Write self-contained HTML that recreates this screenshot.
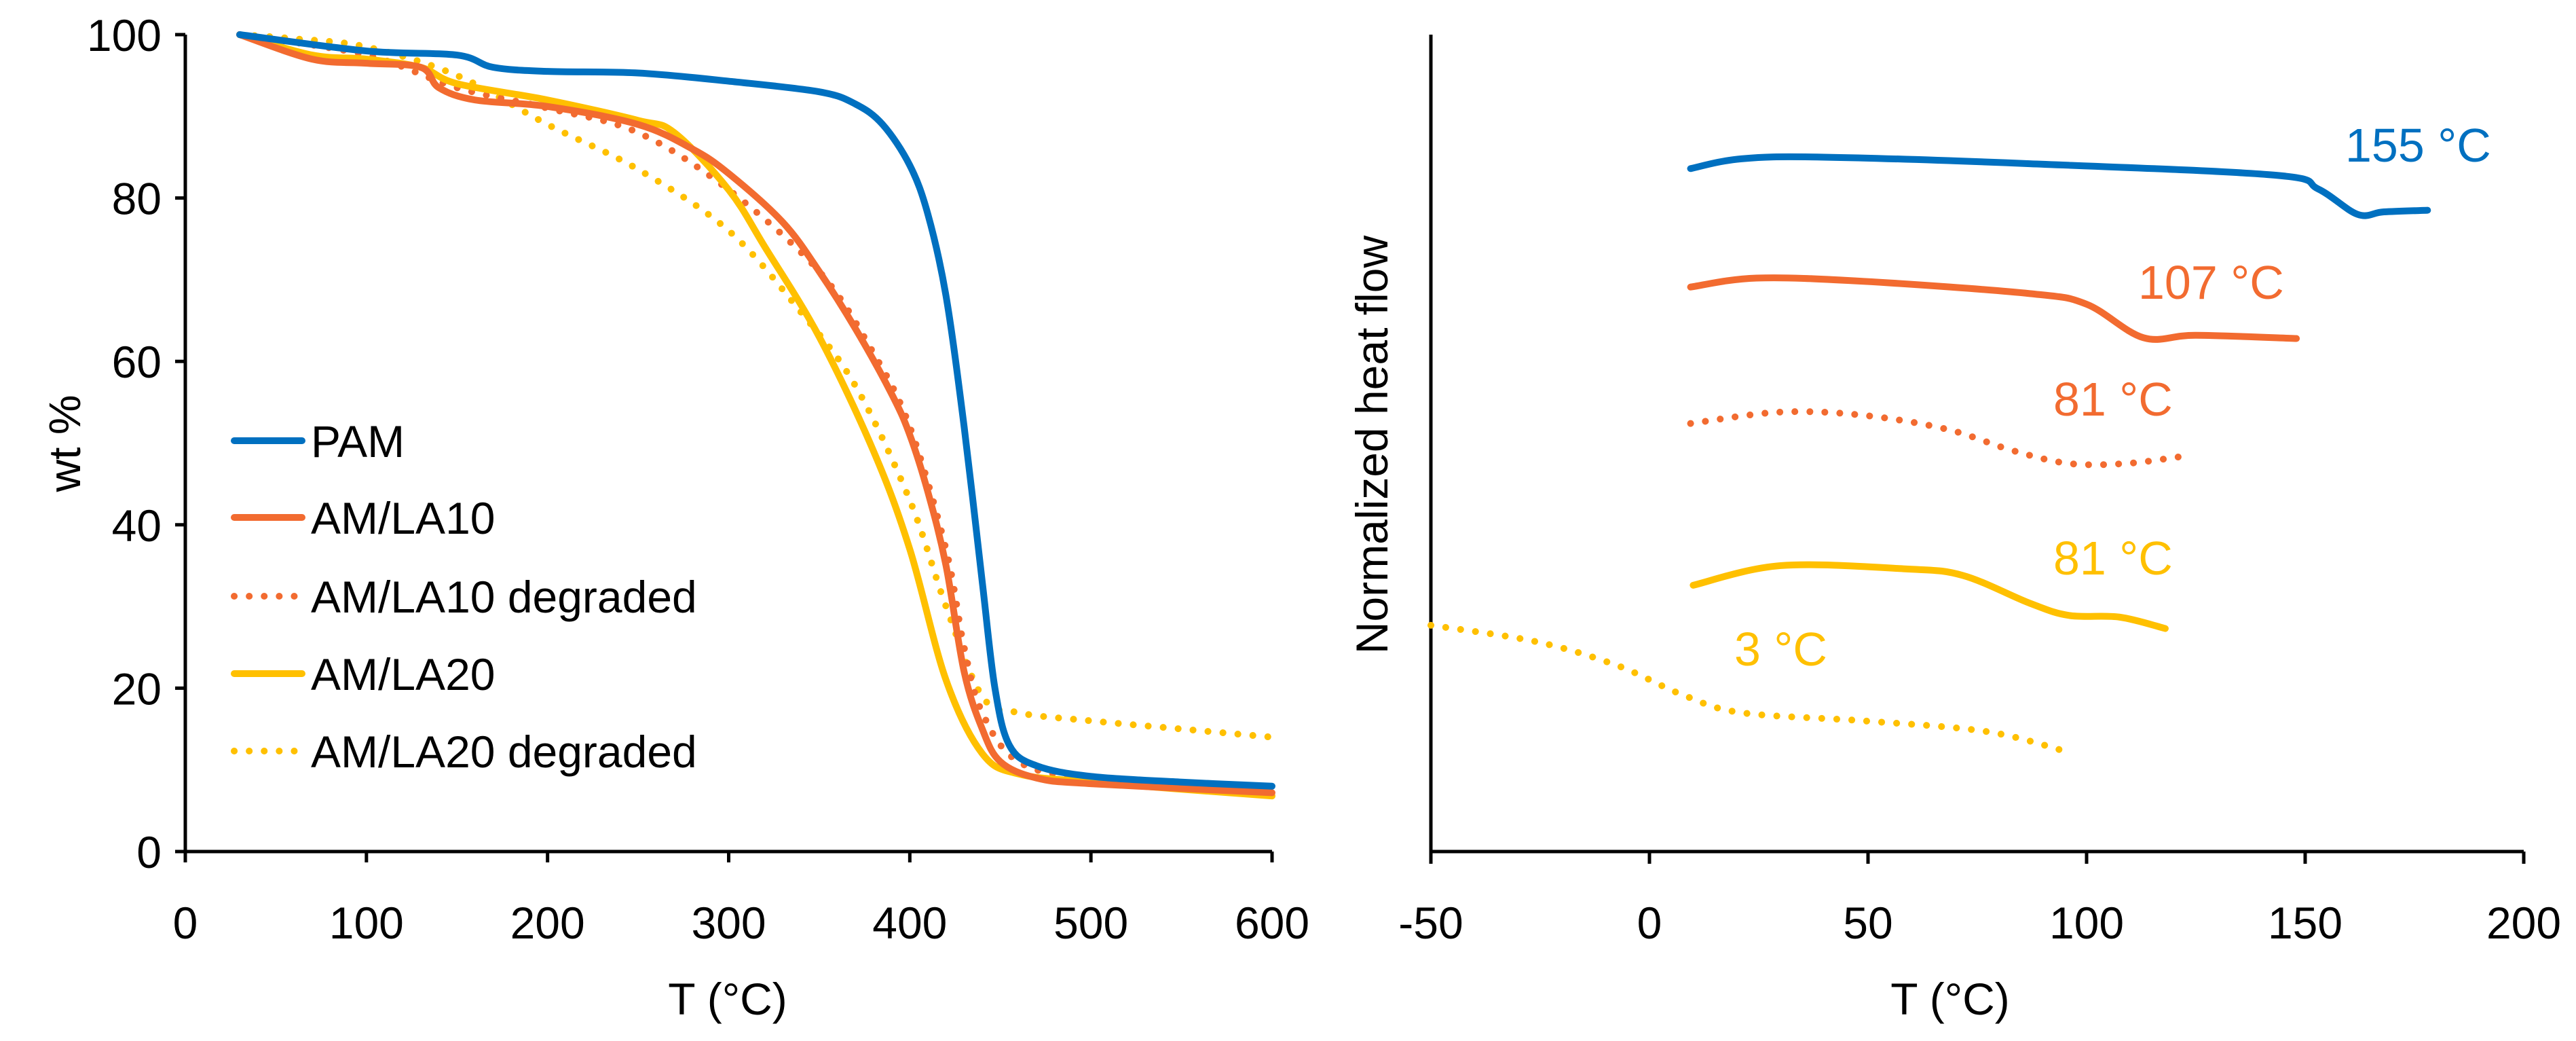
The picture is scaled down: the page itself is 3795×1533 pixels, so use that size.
<!DOCTYPE html>
<html><head><meta charset="utf-8"><style>
html,body{margin:0;padding:0;background:#fff}
svg{display:block;font-family:"Liberation Sans",Arial,sans-serif}
</style></head><body>
<svg id="c" width="3795" height="1533" viewBox="0 0 3795 1533" xmlns="http://www.w3.org/2000/svg"></svg>
<script>
const tgaXTicks=[0,100,200,300,400,500,600];
const tgaYTicks=[0,20,40,60,80,100];
const pamT=[30,100,150,170,200,250,300,350,370,385,400,410,420,430,440,447,455,470,500,550,600];
const pamW=[100,98,97.5,96,95.5,95.3,94.3,93,91.5,89,84,78,68,52,33,20,13,10.5,9.2,8.5,8];
const la10T=[30,70,100,130,140,160,200,250,280,300,330,350,370,390,400,410,420,430,440,450,470,500,600];
const la10W=[100,97,96.5,96,93.5,92,91.2,89,86,83,77,71,64,56,51,44,35,22,15,11,9,8.3,7.2];
const la10dT=[30,100,150,200,250,300,350,380,400,420,430,440,460,500,600];
const la10dW=[100,97.5,93.5,91,88,81,71,61,52,37,25,17,11,9,7.5];
const la20T=[30,70,100,130,150,200,250,270,300,320,350,380,400,420,440,460,500,600];
const la20W=[100,97.5,97,96,94,92,89.5,88,81,74,63,49,37,21,12,9.5,8.5,6.8];
const la20dT=[30,60,100,150,200,250,300,340,370,400,420,440,460,500,550,600];
const la20dW=[100,99.5,98.5,95,89,83.5,76,66,57,43,30,19,17,16,15,14];
const dscXTicks=[-50,0,50,100,150,200];
const dPamT=[9.4,21,40,87,143,153,162,168,178];
const dPamH=[83.6,84.8,85,84.2,82.8,81.1,78,78.3,78.5];
const dLa10T=[9.4,24.5,49,87,100,113,125,148];
const dLa10H=[69.1,70.2,69.8,68.3,67,62.9,63.2,62.8];
const dLa10dT=[9.4,30,49,68,83,96,109,121];
const dLa10dH=[52.4,53.8,53.4,51.7,49.1,47.5,47.5,48.3];
const dLa20T=[10,30,58.5,71.7,87,96,107.5,118];
const dLa20H=[32.6,35,34.6,33.8,30.4,28.9,28.7,27.3];
const dLa20dT=[-50,-26,-7.5,7.5,21,49,77,95];
const dLa20dH=[27.7,25.7,22.8,19.2,17,16,14.7,12.3];
const legendNames=["PAM","AM/LA10","AM/LA10 degraded","AM/LA20","AM/LA20 degraded"];
const annTexts=["155 °C","107 °C","81 °C","81 °C","3 °C"];

const NS="http://www.w3.org/2000/svg";
const svg=document.getElementById('c');
const BLUE="#0070C0",OR="#F26B30",YE="#FFC000";
const FS=66;
function el(t,a,p){const e=document.createElementNS(NS,t);for(const k in a)e.setAttribute(k,a[k]);(p||svg).appendChild(e);return e;}
const lx=v=>273+(v/600)*(1874-273), ly=v=>1254-(v/100)*(1254-51);
const rx=v=>2108+((v+50)/250)*(3718-2108), ry=v=>1254-(v/100)*(1254-51);
function smooth(pts){let d=`M${pts[0][0]},${pts[0][1]}`;for(let i=0;i<pts.length-1;i++){const p0=pts[i-1]||pts[i],p1=pts[i],p2=pts[i+1],p3=pts[i+2]||p2;
const c1=[p1[0]+(p2[0]-p0[0])/6,p1[1]+(p2[1]-p0[1])/6],c2=[p2[0]-(p3[0]-p1[0])/6,p2[1]-(p3[1]-p1[1])/6];
d+=` C${c1[0]},${c1[1]} ${c2[0]},${c2[1]} ${p2[0]},${p2[1]}`;}return d;}
function series(xs,ys,fx,fy,col,dot,name){const p=el('path',{d:smooth(xs.map((x,i)=>[fx(x),fy(ys[i])])),fill:'none',stroke:col,'stroke-width':10,'stroke-linecap':'round','stroke-dasharray':dot?'0.1 22':'none'});

}
const la=el('g',{});


el('line',{x1:273,y1:51,x2:273,y2:1254,stroke:'#000','stroke-width':5},la);
el('line',{x1:273,y1:1254,x2:1874,y2:1254,stroke:'#000','stroke-width':5},la);
tgaYTicks.forEach(v=>{el('line',{x1:258,x2:273,y1:ly(v),y2:ly(v),stroke:'#000','stroke-width':5},la);
const t=el('text',{x:238,y:ly(v)+24,'text-anchor':'end','font-size':FS},la);t.textContent=v;

});
tgaXTicks.forEach(v=>{el('line',{x1:lx(v),x2:lx(v),y1:1254,y2:1270,stroke:'#000','stroke-width':5},la);
const t=el('text',{x:lx(v),y:1382,'text-anchor':'middle','font-size':FS},la);t.textContent=v;

});
let t=el('text',{x:1072,y:1494,'text-anchor':'middle','font-size':FS});t.textContent="T (°C)";


t=el('text',{x:0,y:0,'text-anchor':'middle','font-size':FS,transform:'translate(118,653) rotate(-90)'});t.textContent="wt %";


series(la20dT,la20dW,lx,ly,YE,true,'tga-am-la20-degraded-line');
series(la10dT,la10dW,lx,ly,OR,true,'tga-am-la10-degraded-line');
series(la20T,la20W,lx,ly,YE,false,'tga-am-la20-line');
series(la10T,la10W,lx,ly,OR,false,'tga-am-la10-line');
series(pamT,pamW,lx,ly,BLUE,false,'tga-pam-line');
const lc=[BLUE,OR,OR,YE,YE],ld=[false,false,true,false,true],ly0=[649,762,878,992,1106];
legendNames.forEach((n,i)=>{const g=el('g',{});


el('line',{x1:345,x2:445,y1:ly0[i],y2:ly0[i],stroke:lc[i],'stroke-width':10,'stroke-linecap':'round','stroke-dasharray':ld[i]?'0.1 22':'none'},g);
const tx=el('text',{x:458,y:ly0[i]+24,'font-size':FS},g);tx.textContent=n;});
const ra=el('g',{});


el('line',{x1:2108,y1:51,x2:2108,y2:1254,stroke:'#000','stroke-width':5},ra);
el('line',{x1:2108,y1:1254,x2:3718,y2:1254,stroke:'#000','stroke-width':5},ra);
dscXTicks.forEach(v=>{el('line',{x1:rx(v),x2:rx(v),y1:1254,y2:1272,stroke:'#000','stroke-width':5},ra);
const t=el('text',{x:rx(v),y:1382,'text-anchor':'middle','font-size':FS},ra);t.textContent=v;

});
t=el('text',{x:2873,y:1494,'text-anchor':'middle','font-size':FS});t.textContent="T (°C)";


t=el('text',{x:0,y:0,'text-anchor':'middle','font-size':FS,transform:'translate(2044,655) rotate(-90)'});t.textContent="Normalized heat flow";


series(dPamT,dPamH,rx,ry,BLUE,false,'dsc-pam-line');
series(dLa10T,dLa10H,rx,ry,OR,false,'dsc-am-la10-line');
series(dLa10dT,dLa10dH,rx,ry,OR,true,'dsc-am-la10-degraded-line');
series(dLa20T,dLa20H,rx,ry,YE,false,'dsc-am-la20-line');
series(dLa20dT,dLa20dH,rx,ry,YE,true,'dsc-am-la20-degraded-line');
const ax=[3455,3150,3025,3025,2555],ay=[238,440,612,846,980],ac=[BLUE,OR,OR,YE,YE];
annTexts.forEach((s,i)=>{const a=el('text',{x:ax[i],y:ay[i],'font-size':70,fill:ac[i]});a.textContent=s;

});
</script>
</body></html>
